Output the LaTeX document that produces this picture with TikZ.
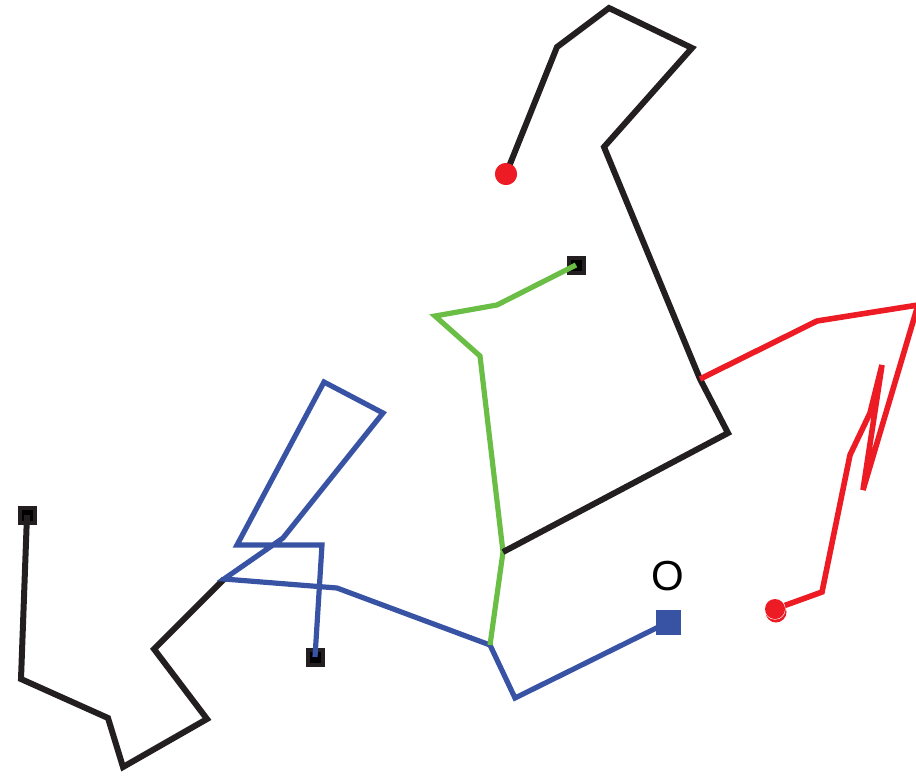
\documentclass[tikz,border=0pt]{standalone}
\usepackage{fontspec}
\setmainfont{Liberation Sans}
\definecolor{inkblack}{HTML}{231F20}
\definecolor{chainblue}{HTML}{3953A4}
\definecolor{chaingreen}{HTML}{6ABD45}
\definecolor{chainred}{HTML}{ED1C24}
\tikzset{
  blackchain/.style={draw=inkblack, line width=6pt},
  bluechain/.style={draw=chainblue, line width=5.2pt},
  greenchain/.style={draw=chaingreen, line width=5.2pt},
  redchain/.style={draw=chainred, line width=5.6pt},
  endsquare/.style={rectangle, fill=black, draw=inkblack, line width=4pt,
    minimum size=15pt, inner sep=0pt},
  originsquare/.style={rectangle, fill=chainblue, minimum size=25pt, inner sep=0pt},
  enddot/.style={circle, fill=chainred, minimum size=22pt, inner sep=0pt},
}
\begin{document}
\begin{tikzpicture}[x=1pt, y=-1pt]
\useasboundingbox (0,0) rectangle (916,777);
\begin{scope}
\clip (0,0) rectangle (916,777);

% junction points shared by several chains
\coordinate (jA) at (224,579);
\coordinate (jB) at (490,645);
\coordinate (jC) at (503,552);
\coordinate (jD) at (700,379);

% end markers
\node[endsquare] (sqL) at (27,515) {};
\node[endsquare] (sqB) at (315,657) {};
\node[endsquare] (sqG) at (576,265) {};
\node[originsquare] (orig) at (668.5,622) {};
\node[font=\fontsize{42}{44}\selectfont] (olabel) at (667.5,576) {O};

% lower left black chain
\coordinate (k1) at (21,679);
\coordinate (k2) at (108,718);
\coordinate (k3) at (123,767);
\coordinate (k4) at (207,719);
\coordinate (k5) at (154,649);
\draw[blackchain] (sqL.center) -- (k1) -- (k2) -- (k3) -- (k4) -- (k5) -- (jA);

% blue chain
\coordinate (b1) at (283,538);
\coordinate (b2) at (383,413);
\coordinate (b3) at (324,382);
\coordinate (b4) at (237,545);
\coordinate (b5) at (322,545);
\coordinate (b6) at (337,588);
\coordinate (b7) at (515,698);
\draw[bluechain] (sqB.center) -- (b5) -- (b4) -- (b3) -- (b2) -- (b1) -- (jA)
  -- (b6) -- (jB) -- (b7) -- (orig.center);

% green chain
\coordinate (g1) at (480,356);
\coordinate (g2) at (435,316);
\coordinate (g3) at (497,305);
\draw[greenchain] (jB) -- (jC) -- (g1) -- (g2) -- (g3) -- (sqG.center);

% upper black chain
\coordinate (u1) at (728,433);
\coordinate (u2) at (604,147);
\coordinate (u3) at (692,48);
\coordinate (u4) at (609,8);
\coordinate (u5) at (557,47);
\node[enddot] (dotT) at (506,174) {};
\draw[blackchain] (jC) -- (u1) -- (jD) -- (u2) -- (u3) -- (u4) -- (u5) -- (dotT.center);
\node[enddot] at (dotT) {};

% red chain
\coordinate (r1) at (817,321);
\coordinate (r2) at (918,305);
\coordinate (r3) at (863,490);
\coordinate (r4) at (882,365);
\coordinate (r5) at (870,413);
\coordinate (r6) at (850,455);
\coordinate (r7) at (822,592);
\coordinate (dotR) at (775,609);
\draw[redchain] (jD) -- (r1) -- (r2) -- (r3) -- (r4) -- (r5) -- (r6) -- (r7) -- (dotR);
\fill[chainred] (776,612) circle (10.5pt);
\draw[white, line width=0.8pt] (dotR) circle (10.2pt);
\fill[chainred] (dotR) circle (10pt);
\end{scope}
\end{tikzpicture}
\end{document}
